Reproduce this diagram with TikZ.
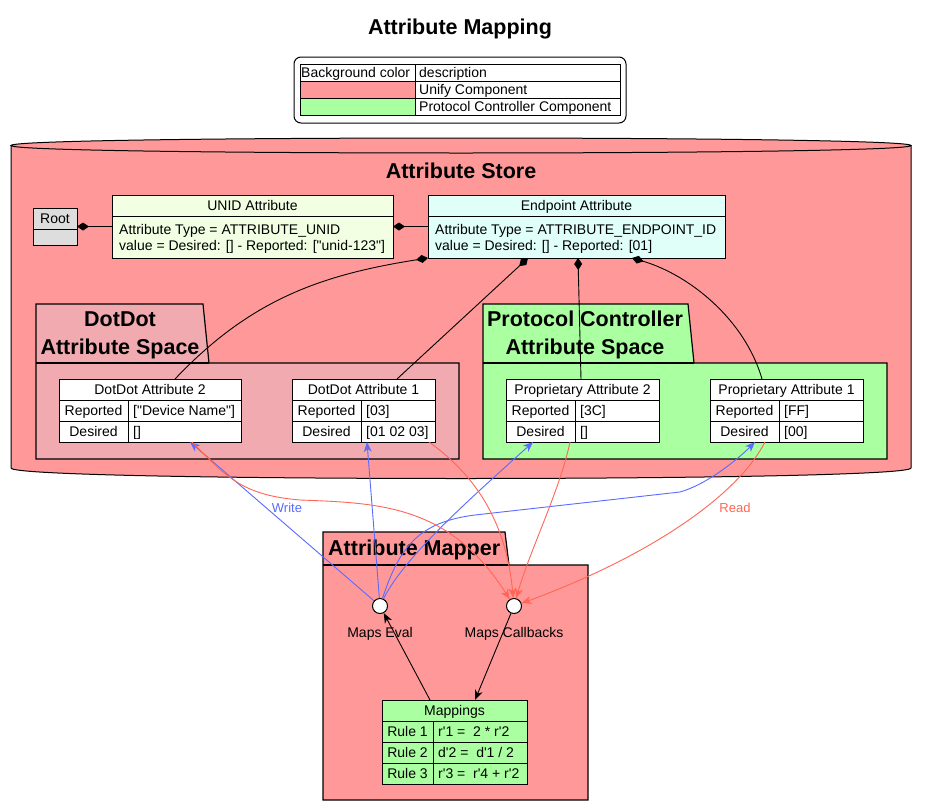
\documentclass[tikz,border=0pt]{standalone}
\usepackage{fontspec}
\newfontfamily\lsans{Liberation Sans}
\usetikzlibrary{arrows.meta,calc}
\definecolor{storefill}{HTML}{FF9999}
\definecolor{ddfill}{HTML}{F0AAB0}
\definecolor{pcfill}{HTML}{AAFFA0}
\definecolor{rootfill}{HTML}{DDDDDD}
\definecolor{unidfill}{HTML}{F2FFE3}
\definecolor{epfill}{HTML}{E0FFF8}
\definecolor{wblue}{HTML}{5A6BFF}
\definecolor{rred}{HTML}{FF6655}
\tikzset{
  t14/.style={font=\lsans\fontsize{14}{17}\selectfont, inner sep=0pt, text height=11pt, text depth=1pt},
  t13/.style={font=\lsans\fontsize{13}{16}\selectfont, inner sep=0pt},
  tbold/.style={font=\lsans\bfseries\fontsize{21.5}{28}\selectfont, inner sep=0pt, align=center},
  frame/.style={draw=black, line width=1pt},
  pkg/.style={draw=black, line width=1.2pt},
  comp/.style={draw=black, line width=0.9pt, {Diamond[length=12pt,width=8pt]}-},
  wr/.style={draw=wblue, line width=0.9pt, -{Stealth[length=10pt,width=8pt,inset=3pt]}},
  rd/.style={draw=rred, line width=0.9pt, -{Stealth[length=10pt,width=8pt,inset=3pt]}},
  blk/.style={draw=black, line width=0.9pt, -{Stealth[length=10pt,width=8pt,inset=3pt]}},
  circ/.style={circle, draw=black, fill=white, line width=1pt, minimum size=15pt, inner sep=0pt},
}
\newcommand{\mybox}[6]{\node[#6, inner sep=0pt, outer sep=0pt, anchor=north west, minimum width={(#4)-(#2)}, minimum height={(#5)-(#3)}] (#1) at (#2,#3) {};}
\begin{document}
\begin{tikzpicture}[x=1pt,y=-1pt]
\useasboundingbox[fill=white] (0,0) rectangle (927,806);
% title
\node[tbold] (title) at (460,29) {Attribute Mapping};
% legend
\mybox{legend}{294}{57}{626}{123}{frame, rounded corners=7pt}
\fill[storefill] (300,81) rectangle (415,98);
\fill[pcfill] (300,98) rectangle (415,115);
\mybox{legtab}{300}{64}{620}{115}{frame}
\draw[frame] (300,81) -- (620,81) (300,98) -- (620,98) (415,64) -- (415,115);
\node[t14, anchor=west] (lg1) at (301,72.5) {Background color};
\node[t14, anchor=west] (lg2) at (419,72.5) {description};
\node[t14, anchor=west] (lg3) at (419,89.5) {Unify Component};
\node[t14, anchor=west] (lg4) at (419,106.5) {Protocol Controller Component};
% store cylinder
\fill[storefill] (11,145.5) -- (11,468) .. controls (11,482) and (911,482) .. (911,468) -- (911,145.5) -- cycle;
\draw[frame] (11,145.5) -- (11,468) .. controls (11,482) and (911,482) .. (911,468) -- (911,145.5);
\draw[frame, fill=storefill] (11,145.5) .. controls (11,135.5) and (911,135.5) .. (911,145.5) .. controls (911,155.5) and (11,155.5) .. cycle;
\node[tbold] (storetitle) at (461,171) {Attribute Store};
% root / unid / endpoint
\mybox{root}{33}{208}{77}{245}{frame, fill=rootfill}
\draw[frame] (33,229) -- (77,229);
\node[t14] (roottxt) at (55,218.5) {Root};
\mybox{unid}{112}{195}{393}{258}{frame, fill=unidfill}
\draw[frame] (112,216) -- (393,216);
\node[t14] (unidh) at (252.5,205.5) {UNID Attribute};
\node[t14, anchor=west] (unid1) at (119,229) {Attribute Type = ATTRIBUTE\_UNID};
\node[t14, anchor=west] (unid2) at (119,245) {value = Desired: [] - Reported: ["unid-123"]};
\mybox{ep}{428}{195}{725}{258}{frame, fill=epfill}
\draw[frame] (428,216) -- (725,216);
\node[t14] (eph) at (576.5,205.5) {Endpoint Attribute};
\node[t14, anchor=west] (ep1) at (435,229) {Attribute Type = ATTRIBUTE\_ENDPOINT\_ID};
\node[t14, anchor=west] (ep2) at (435,245) {value = Desired: [] - Reported: [01]};
% DotDot package
\draw[pkg, fill=ddfill] (36,363) -- (36,304) -- (203,304) -- (209,363) -- (459,363) -- (459,459) -- (36,459) -- cycle;
\draw[pkg] (36,363) -- (209,363);
\node[tbold] (ddtitle) at (120,335) {DotDot\\Attribute Space};
% Protocol package
\draw[pkg, fill=pcfill] (483,363) -- (483,304) -- (688,304) -- (694,363) -- (887,363) -- (887,459) -- (483,459) -- cycle;
\draw[pkg] (483,363) -- (694,363);
\node[tbold] (pctitle) at (585,334.5) {Protocol Controller\\Attribute Space};
% DotDot Attribute 2
\mybox{dd2}{59}{379}{241}{442}{frame, fill=white}
\draw[frame] (59,400) -- (241,400) (59,421) -- (241,421) (128,400) -- (128,442);
\node[t14] (dd2h) at (150,389.5) {DotDot Attribute 2};
\node[t14] (dd2r) at (93.5,410.5) {Reported};
\node[t14] (dd2d) at (93.5,431.5) {Desired};
\node[t14, anchor=west] (dd2rv) at (133,410.5) {["Device Name"]};
\node[t14, anchor=west] (dd2dv) at (133,431.5) {[]};
% DotDot Attribute 1
\mybox{dd1}{292}{379}{435}{442}{frame, fill=white}
\draw[frame] (292,400) -- (435,400) (292,421) -- (435,421) (361,400) -- (361,442);
\node[t14] (dd1h) at (363.5,389.5) {DotDot Attribute 1};
\node[t14] (dd1r) at (326.5,410.5) {Reported};
\node[t14] (dd1d) at (326.5,431.5) {Desired};
\node[t14, anchor=west] (dd1rv) at (366,410.5) {[03]};
\node[t14, anchor=west] (dd1dv) at (366,431.5) {[01 02 03]};
% Proprietary Attribute 2
\mybox{pa2}{506}{379}{659}{442}{frame, fill=white}
\draw[frame] (506,400) -- (659,400) (506,421) -- (659,421) (575,400) -- (575,442);
\node[t14] (pa2h) at (582.5,389.5) {Proprietary Attribute 2};
\node[t14] (pa2r) at (540.5,410.5) {Reported};
\node[t14] (pa2d) at (540.5,431.5) {Desired};
\node[t14, anchor=west] (pa2rv) at (580,410.5) {[3C]};
\node[t14, anchor=west] (pa2dv) at (580,431.5) {[]};
% Proprietary Attribute 1
\mybox{pa1}{710}{379}{863}{442}{frame, fill=white}
\draw[frame] (710,400) -- (863,400) (710,421) -- (863,421) (779,400) -- (779,442);
\node[t14] (pa1h) at (786.5,389.5) {Proprietary Attribute 1};
\node[t14] (pa1r) at (744.5,410.5) {Reported};
\node[t14] (pa1d) at (744.5,431.5) {Desired};
\node[t14, anchor=west] (pa1rv) at (784,410.5) {[FF]};
\node[t14, anchor=west] (pa1dv) at (784,431.5) {[00]};
% composition links
\draw[comp] (root.east) -- (unid.west);
\draw[comp] (unid.east) -- (ep.west);
\draw[comp] (ep.south west) .. controls (320,275) and (250,300) .. ([xshift=116pt]dd2.north west);
\draw[comp] ([xshift=100pt]ep.south west) -- ([xshift=105pt]dd1.north west);
\draw[comp] ([xshift=150pt]ep.south west) -- ([xshift=75pt]pa2.north west);
\draw[comp] ([xshift=204pt]ep.south west) .. controls (690,275) and (745,320) .. ([xshift=52pt]pa1.north west);
% Attribute Mapper package
\draw[pkg, fill=storefill] (323,565) -- (323,532) -- (505,532) -- (509,565) -- (588,565) -- (588,800) -- (323,800) -- cycle;
\draw[pkg] (323,565) -- (509,565);
\node[tbold, anchor=west] (amtitle) at (328,549.5) {Attribute Mapper};
\node[circ] (me) at (380,606) {};
\node[circ] (mc) at (514,606) {};
\node[t14] (melab) at (380,632) {Maps Eval};
\node[t14] (mclab) at (514,632) {Maps Callbacks};
% Mappings table
\mybox{mp}{382}{700}{527}{784}{frame, fill=pcfill}
\draw[frame] (382,721) -- (527,721) (382,742) -- (527,742) (382,763) -- (527,763) (433,721) -- (433,784);
\node[t14] (mph) at (454.5,710.5) {Mappings};
\node[t14] (mr1) at (407.5,731.5) {Rule 1};
\node[t14] (mr2) at (407.5,752.5) {Rule 2};
\node[t14] (mr3) at (407.5,773.5) {Rule 3};
\node[t14, anchor=west] (mv1) at (438,731.5) {r'1 =\ \ 2 * r'2};
\node[t14, anchor=west] (mv2) at (438,752.5) {d'2 =\ \ d'1 / 2};
\node[t14, anchor=west] (mv3) at (438,773.5) {r'3 =\ \ r'4 + r'2};
% black arrows
\draw[blk] ([xshift=48pt]mp.north west) -- (me);
\draw[blk] (mc) -- ([xshift=93pt]mp.north west);
% write arrows
\draw[wr] (me) -- ([xshift=131pt]dd2.south west);
\draw[wr] (me) -- ([xshift=75pt]dd1.south west);
\draw[wr] (me) .. controls (405,555) and (480,490) .. ([xshift=27pt]pa2.south west);
\draw[wr] (me) .. controls (400,545) and (420,522) .. (475,515) -- (680,492) .. controls (705,485) and (735,462) .. ([xshift=45pt]pa1.south west);
\node[t13, text=wblue] (wlabel) at (287,508) {Write};
% read arrows
\draw[rd] ([xshift=133pt]dd2.south west) .. controls (225,475) and (240,495) .. (300,500) .. controls (380,503) and (450,505) .. (mc);
\draw[rd] ([xshift=137pt]dd1.south west) .. controls (465,468) and (505,510) .. (mc);
\draw[rd] ([xshift=64pt]pa2.south west) .. controls (560,490) and (530,550) .. (mc);
\draw[rd] ([xshift=55pt]pa1.south west) .. controls (735,500) and (640,560) .. (mc);
\node[t13, text=rred] (rlabel) at (735,508) {Read};
\end{tikzpicture}
\end{document}
